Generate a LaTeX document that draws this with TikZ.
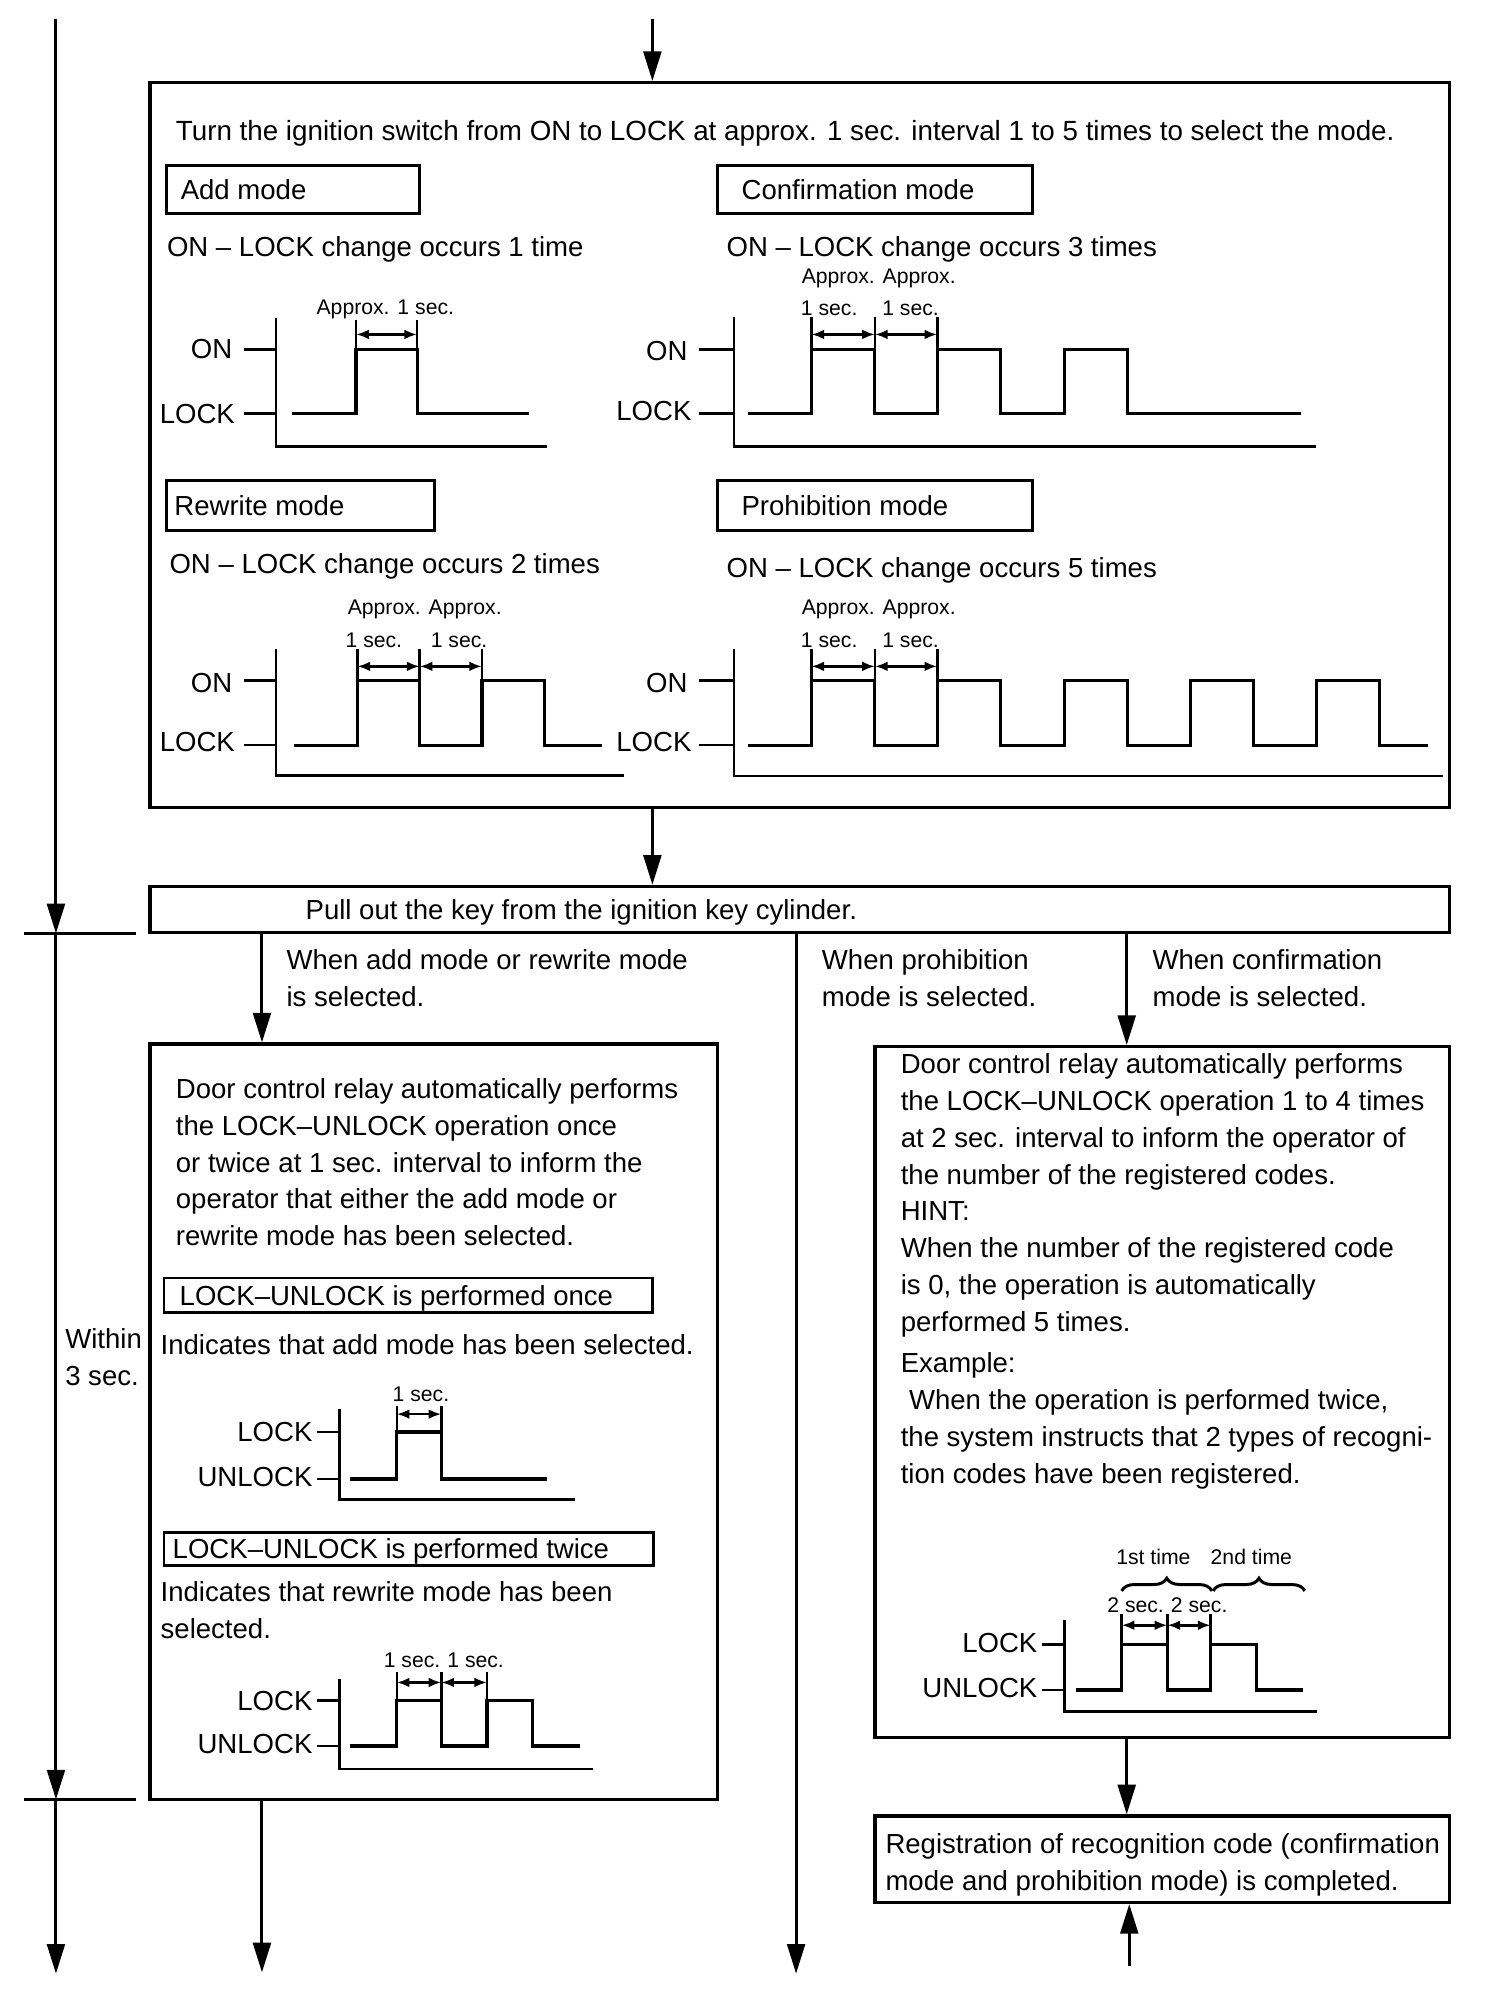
\documentclass[tikz,border=0pt]{standalone}
\usepackage{fontspec}
\setmainfont{Liberation Sans}
\usetikzlibrary{arrows.meta, positioning, fit, calc, decorations.pathreplacing}

\newcommand{\bigfont}{\fontsize{13}{17.4}\selectfont}
\newcommand{\smallfont}{\fontsize{10}{12}\selectfont}

\tikzset{
  boxline/.style={draw, line width=1.5pt, inner sep=0pt},
  modebox/.style={draw, line width=1.4pt, inner sep=0pt},
  txt/.style={inner sep=0pt, font=\bigfont, text height=9.3pt, text depth=0pt},
  txtblock/.style={inner sep=0pt, font=\bigfont, align=left, anchor=north west},
  smalltxt/.style={inner sep=0pt, font=\smallfont, text height=7.2pt, text depth=0pt},
  flowarrow/.style={line width=1.4pt, -{Triangle[length=14pt, width=8.4pt]}},
  signal/.style={line width=1.5pt},
  axisline/.style={line width=1.2pt},
  guide/.style={line width=1.2pt},
  dimarrow/.style={line width=1.2pt, {Latex[length=6pt, width=4.6pt]}-{Latex[length=6pt, width=4.6pt]}}
}

\begin{document}
\begin{tikzpicture}[x=0.6pt, y=-0.6pt]
\useasboundingbox (0,0) rectangle (1183,1568);

% main boxes
\node[boxline, fit={(118,65) (1140,635)}] (modes) {};
\node[boxline, fit={(118,697) (1140,733)}] (pull) {};
\node[boxline, fit={(118,821) (564,1415)}] (addres) {};
\node[boxline, fit={(688,823) (1140,1366)}] (confres) {};
\node[boxline, fit={(688,1428) (1140,1496)}] (done) {};

% connectors
\coordinate (in) at (513,15);
\coordinate (b1) at (206,0);
\coordinate (b2) at (626,0);
\coordinate (b3) at (886,0);
\coordinate (aout) at (206,1551);
\coordinate (pout) at (626,1552);
\coordinate (din) at (888,1546);
\draw[flowarrow] (in) -- (in |- modes.north);
\draw[flowarrow] (in |- modes.south) -- (in |- pull.north);
\draw[flowarrow] (b1 |- pull.south) -- (b1 |- addres.north);
\draw[flowarrow] (b2 |- pull.south) -- (pout);
\draw[flowarrow] (b3 |- pull.south) -- (b3 |- confres.north);
\draw[flowarrow] (b1 |- addres.south) -- (aout);
\draw[flowarrow] (b3 |- confres.south) -- (b3 |- done.north);
\draw[flowarrow] (din) -- (din |- done.south);

% time line on the left
\coordinate (t0) at (44,15);
\coordinate (t1) at (44,734);
\coordinate (t2) at (44,1415);
\coordinate (t3) at (44,1552);
\draw[flowarrow] (t0) -- (t1);
\draw[flowarrow] (t1) -- (t2);
\draw[flowarrow] (t2) -- (t3);
\draw[axisline] (t1) ++(-25,0) -- ++(88,0);
\draw[axisline] (t2) ++(-25,0) -- ++(88,0);
\node[txtblock] at (51,1040) {\strut Within\\3 sec.};

% mode selection
\node[txt, anchor=west, font=\fontsize{13.1}{17.4}\selectfont] at (138,103) {Turn the ignition switch from ON to LOCK at approx. 1 sec. interval 1 to 5 times to select the mode.};
\node[modebox, fit={(131,130) (330,168)}] (addmode) {};
\node[modebox, fit={(564,130) (812,168)}] (confmode) {};
\node[modebox, fit={(131,378) (342,417)}] (rewmode) {};
\node[modebox, fit={(564,378) (812,417)}] (promode) {};
\node[txt, anchor=west] at ($(addmode.west)+(12,0)$) {Add mode};
\node[txt, anchor=west] at ($(confmode.west)+(20,0)$) {Confirmation mode};
\node[txt, anchor=west] at ($(rewmode.west)+(7,0)$) {Rewrite mode};
\node[txt, anchor=west] at ($(promode.west)+(20,0)$) {Prohibition mode};
\node[txt, anchor=west] at (131,194) {ON – LOCK change occurs 1 time};
\node[txt, anchor=west] at (571,194) {ON – LOCK change occurs 3 times};
\node[txt, anchor=west] at (133,443) {ON – LOCK change occurs 2 times};
\node[txt, anchor=west] at (571,446) {ON – LOCK change occurs 5 times};

% add mode signal
\draw[axisline] (217,250) |- (430,351);
\draw[axisline] (192,275) -- (217,275) (192,325) -- (217,325);
\node[txt, anchor=east] at (183,274) {ON};
\node[txt, anchor=east] at (185,325) {LOCK};
\draw[signal] (230,325) -| (280,275) -| (328,325) -- (416,325);
\draw[guide] (280,252) -- (280,275) (328,252) -- (328,275);
\draw[dimarrow] (280,263) -- (328,263);
\node[smalltxt] at (303,241) {Approx. 1 sec.};

% confirmation mode signal
\draw[axisline] (577,249) |- (1035,351);
\draw[axisline] (550,275) -- (577,275) (550,325) -- (577,325);
\node[txt, anchor=east] at (541,276) {ON};
\node[txt, anchor=east] at (544,323) {LOCK};
\draw[signal] (588,325) foreach \x in {638,737,837} { -| (\x,275) -| (\x+49.5,325) } -- (1023,325);
\foreach \x in {638,688,737} \draw[guide] (\x,249) -- (\x,275);
\draw[dimarrow] (638,263) -- (688,263);
\draw[dimarrow] (688,263) -- (737,263);
\node[smalltxt] at (691,217) {Approx. Approx.};
\node[smalltxt] at (652,242) {1 sec.};
\node[smalltxt] at (716,242) {1 sec.};

% rewrite mode signal
\draw[axisline] (217,510) |- (491,610);
\draw[axisline] (192,535) -- (217,535) (192,586) -- (217,586);
\node[txt, anchor=east] at (183,537) {ON};
\node[txt, anchor=east] at (185,583) {LOCK};
\draw[signal] (231,586) foreach \x in {281,379} { -| (\x,535) -| (\x+49,586) } -- (473,586);
\foreach \x in {281,330,379} \draw[guide] (\x,510) -- (\x,535);
\draw[dimarrow] (281,524) -- (330,524);
\draw[dimarrow] (330,524) -- (379,524);
\node[smalltxt] at (334,477) {Approx. Approx.};
\node[smalltxt] at (294,503) {1 sec.};
\node[smalltxt] at (361,503) {1 sec.};

% prohibition mode signal
\draw[line width=0.9pt] (577,510) |- (1135,610);
\draw[axisline] (550,535) -- (577,535) (550,586) -- (577,586);
\node[txt, anchor=east] at (541,537) {ON};
\node[txt, anchor=east] at (544,583) {LOCK};
\draw[signal] (588,586) foreach \x in {638,737,837,936,1035} { -| (\x,535) -| (\x+49.5,586) } -- (1123,586);
\foreach \x in {638,688,737} \draw[guide] (\x,510) -- (\x,535);
\draw[dimarrow] (638,524) -- (688,524);
\draw[dimarrow] (688,524) -- (737,524);
\node[smalltxt] at (691,477) {Approx. Approx.};
\node[smalltxt] at (652,503) {1 sec.};
\node[smalltxt] at (716,503) {1 sec.};

% key and branches
\node[txt, anchor=west] at (240,715) {Pull out the key from the ignition key cylinder.};
\node[txtblock] at (225,742) {\strut When add mode or rewrite mode\\is selected.};
\node[txtblock] at (646,742) {\strut When prohibition\\mode is selected.};
\node[txtblock] at (906,742) {\strut When confirmation\\mode is selected.};

% add or rewrite mode result
\node[txtblock] at (138,843) {\strut Door control relay automatically performs\\the LOCK–UNLOCK operation once\\or twice at 1 sec. interval to inform the\\operator that either the add mode or\\rewrite mode has been selected.};
\node[modebox, line width=1.2pt, fit={(129,1005) (513,1032)}] (once) {};
\node[txt, anchor=west] at ($(once.west)+(13,0)$) {LOCK–UNLOCK is performed once};
\node[txt, anchor=west] at (126,1057) {Indicates that add mode has been selected.};
\draw[axisline] (267,1108) |- (452,1179);
\draw[axisline] (249,1126) -- (267,1126) (249,1163) -- (267,1163);
\node[txt, anchor=east] at (246,1126) {LOCK};
\node[txt, anchor=east] at (246,1161) {UNLOCK};
\draw[signal] (275,1163) -| (312,1126) -| (347,1163) -- (430,1163);
\draw[guide] (312,1106) -- (312,1126) (347,1106) -- (347,1126);
\draw[dimarrow] (312,1112) -- (347,1112);
\node[smalltxt] at (331,1096) {1 sec.};

\node[modebox, line width=1.2pt, fit={(129,1205) (514,1231)}] (twice) {};
\node[txt, anchor=west] at ($(twice.west)+(7.5,0)$) {LOCK–UNLOCK is performed twice};
\node[txtblock] at (126,1239) {\strut Indicates that rewrite mode has been\\selected.};
\draw[axisline] (267,1320) |- (466,1391);
\draw[axisline] (249,1337) -- (267,1337) (249,1373) -- (267,1373);
\node[txt, anchor=east] at (246,1337) {LOCK};
\node[txt, anchor=east] at (246,1371) {UNLOCK};
\draw[signal] (275,1373) -| (312,1337) -| (347,1373) -| (383,1337) -| (419,1373) -- (456,1373);
\foreach \x in {312,347,383} \draw[guide] (\x,1315) -- (\x,1337);
\draw[dimarrow] (312,1323) -- (347,1323);
\draw[dimarrow] (347,1323) -- (383,1323);
\node[smalltxt] at (324,1305) {1 sec.};
\node[smalltxt] at (374,1305) {1 sec.};

% confirmation mode result
\node[txtblock] at (708,823.5) {\strut Door control relay automatically performs\\the LOCK–UNLOCK operation 1 to 4 times\\at 2 sec. interval to inform the operator of\\the number of the registered codes.\\HINT:\\When the number of the registered code\\is 0, the operation is automatically\\performed 5 times.\\[2pt]Example:\\\hspace*{0.3em}When the operation is performed twice,\\the system instructs that 2 types of recogni-\\tion codes have been registered.};
\node[smalltxt] at (907,1224) {1st time};
\node[smalltxt] at (984,1224) {2nd time};
\draw[line width=1.4pt, decorate, decoration={brace, amplitude=6pt}] (882,1251) -- (953,1251);
\draw[line width=1.4pt, decorate, decoration={brace, amplitude=6pt}] (954,1251) -- (1026,1251);
\node[smalltxt] at (893,1262) {2 sec.};
\node[smalltxt] at (943,1262) {2 sec.};
\draw[axisline] (837,1274) |- (1036,1346);
\draw[axisline] (819,1293) -- (837,1293) (819,1329) -- (837,1329);
\node[txt, anchor=east] at (816,1292) {LOCK};
\node[txt, anchor=east] at (816,1327) {UNLOCK};
\draw[signal] (846,1329) -| (882,1293) -| (918,1329) -| (952,1293) -| (988,1329) -- (1025,1329);
\foreach \x in {882,918,952} \draw[guide] (\x,1269) -- (\x,1293);
\draw[dimarrow] (882,1278) -- (918,1278);
\draw[dimarrow] (918,1278) -- (952,1278);

% registration completed
\node[txtblock] at (696,1437) {\strut Registration of recognition code (confirmation\\mode and prohibition mode) is completed.};
\end{tikzpicture}
\end{document}
